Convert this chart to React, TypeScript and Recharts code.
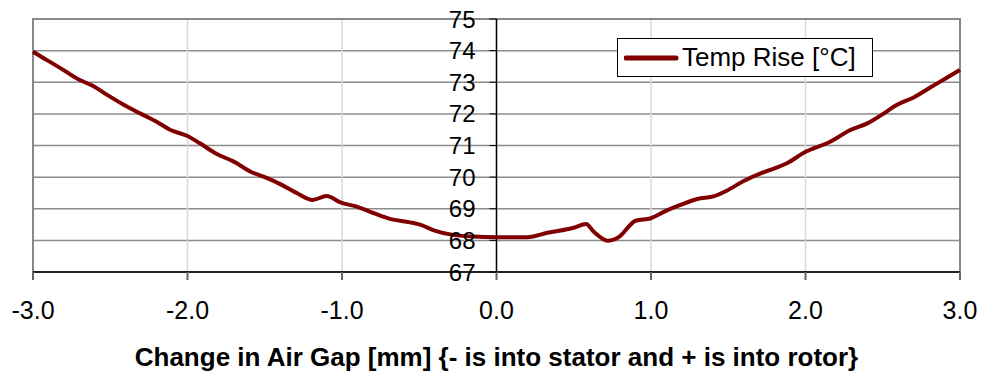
import React from "react";
import {
  CartesianGrid,
  Legend,
  Line,
  LineChart,
  ReferenceArea,
  ReferenceDot,
  ReferenceLine,
  XAxis,
  YAxis,
} from "recharts";

// air gap change [mm]
const gap = [
  -3.0, -2.91, -2.82, -2.71, -2.61, -2.52, -2.41, -2.3, -2.2, -2.11, -2.0,
  -1.92, -1.81, -1.7, -1.59, -1.48, -1.4, -1.29, -1.19, -1.1, -1.01, -0.9,
  -0.79, -0.69, -0.56, -0.49, -0.4, -0.3, -0.15, 0.0, 0.11, 0.2, 0.33, 0.5,
  0.58, 0.63, 0.72, 0.79, 0.9, 1.0, 1.1, 1.19, 1.3, 1.41, 1.49, 1.6, 1.71,
  1.8, 1.88, 2.0, 2.16, 2.29, 2.4, 2.49, 2.59, 2.7, 2.81, 2.92, 3.0,
];

// temperature rise [°C]
const tempRise = [
  73.97, 73.7, 73.44, 73.1, 72.88, 72.6, 72.28, 72.0, 71.75, 71.49, 71.3,
  71.07, 70.73, 70.49, 70.17, 69.96, 69.78, 69.49, 69.28, 69.4, 69.2, 69.06,
  68.85, 68.68, 68.57, 68.49, 68.31, 68.19, 68.12, 68.1, 68.1, 68.1, 68.24,
  68.4, 68.52, 68.27, 67.99, 68.1, 68.62, 68.7, 68.94, 69.12, 69.31, 69.4,
  69.57, 69.88, 70.12, 70.28, 70.44, 70.8, 71.12, 71.49, 71.7, 71.96, 72.28,
  72.52, 72.84, 73.16, 73.39,
];

const xTicks = [-3, -2, -1, 0, 1, 2, 3];
const yTicks = [67, 68, 69, 70, 71, 72, 73, 74, 75];

const data = gap.map((g, i) => ({ gap: g, temp: tempRise[i] }));

const FONT = "Arial, 'Liberation Sans', sans-serif";

// tick + label drawn on the y axis that sits at x = 0
function YTick(props: any) {
  const { cx, cy, value } = props;
  return (
    <g>
      <line x1={cx - 7} x2={cx} y1={cy} y2={cy} stroke="#000" strokeWidth={1} />
      <text
        x={cx - 21}
        y={cy + 8.5}
        textAnchor="end"
        fontSize={24}
        fontFamily={FONT}
        fill="#000"
      >
        {value}
      </text>
    </g>
  );
}

export default function App() {
  return (
    <div style={{ position: "absolute", left: 0, top: 0, background: "#fff" }}>
      <LineChart
        width={981}
        height={374}
        data={data}
        margin={{ top: 19, right: 21, bottom: 2, left: 33 }}
      >
        <CartesianGrid vertical={false} stroke="#8c8c8c" strokeWidth={1.5} />
        <CartesianGrid horizontal={false} stroke="#d9d9d9" strokeWidth={1.5} />
        <ReferenceArea
          x1={-3}
          x2={3}
          y1={67}
          y2={75}
          fill="none"
          stroke="#888"
          strokeWidth={2}
        />
        <XAxis
          dataKey="gap"
          type="number"
          domain={[-3, 3]}
          ticks={xTicks}
          tickFormatter={(v: number) => v.toFixed(1)}
          height={100}
          tickSize={8}
          tickMargin={21}
          stroke="#222"
          strokeWidth={2}
          tick={{ fill: "#000", fontSize: 25, fontFamily: FONT }}
          tickLine={{ stroke: "#666", strokeWidth: 2 }}
          label={{
            value: "Change in Air Gap [mm] {- is into stator and + is into rotor}",
            position: "insideBottom",
            offset: 6,
            fill: "#000",
            fontSize: 26,
            fontWeight: "bold",
            fontFamily: FONT,
          }}
        />
        <YAxis hide domain={[67, 75]} ticks={yTicks} type="number" />
        <ReferenceLine x={0} stroke="#000" strokeWidth={1.5} />
        <Line
          type="monotone"
          dataKey="temp"
          name="Temp Rise [°C]"
          stroke="#800000"
          strokeWidth={4}
          dot={false}
          isAnimationActive={false}
        />
        {yTicks.map((v) => (
          <ReferenceDot
            key={v}
            x={0}
            y={v}
            r={0}
            shape={(p: any) => <YTick {...p} value={v} />}
          />
        ))}
        <Legend
          layout="horizontal"
          align="center"
          verticalAlign="middle"
          wrapperStyle={{
            left: 617,
            top: 38,
            width: 256,
            height: 39,
            border: "1.5px solid #000",
            background: "#fff",
            boxSizing: "border-box",
          }}
          content={() => (
            <div
              style={{
                display: "flex",
                alignItems: "center",
                height: "100%",
                fontFamily: FONT,
                fontSize: 26,
                color: "#000",
              }}
            >
              <svg width={62} height={10} style={{ marginLeft: 6 }}>
                <line
                  x1={2}
                  x2={52}
                  y1={5}
                  y2={5}
                  stroke="#800000"
                  strokeWidth={5}
                  strokeLinecap="round"
                />
              </svg>
              <span style={{ marginLeft: -4 }}>Temp Rise [°C]</span>
            </div>
          )}
        />
      </LineChart>
    </div>
  );
}
